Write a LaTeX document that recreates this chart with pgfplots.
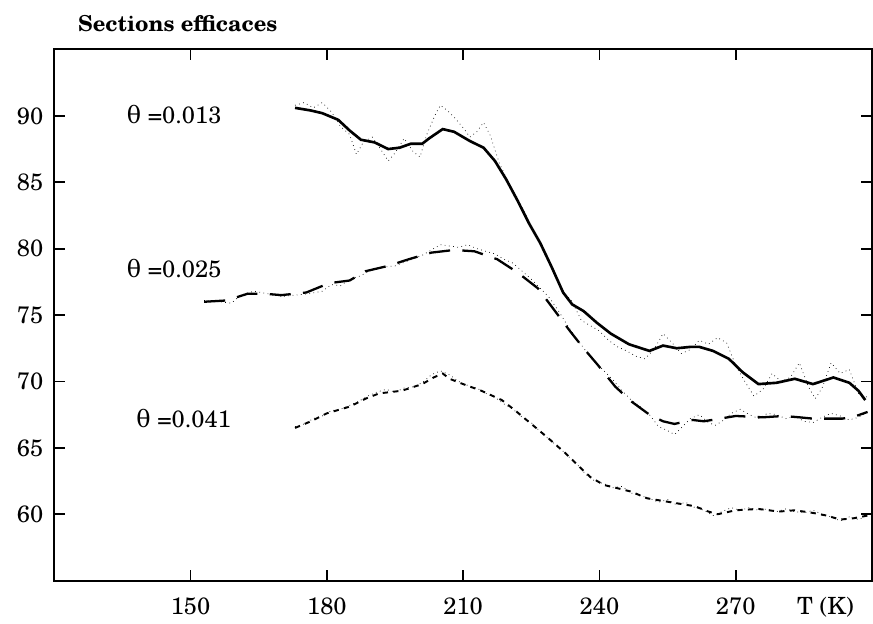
\documentclass[border=0pt]{standalone}
\usepackage{fontspec}
\setmainfont{TeX Gyre Schola}
\newfontfamily\grk{DejaVu Serif}
\usepackage{pgfplots}
\pgfplotsset{compat=1.18}
\usepackage{pgfplotstable}

% theta = 0.013 : smoothed curve and raw points
\pgfplotstableread{
T s
173 90.6
176.5 90.4
179 90.2
182.5 89.7
185 88.9
187.5 88.2
190.5 88.0
193.5 87.5
196 87.6
198.5 87.9
201 87.9
202.5 88.3
205.5 89.0
208 88.8
211.5 88.1
214.5 87.6
217 86.6
219.5 85.2
222 83.6
224.5 81.9
227 80.4
229.5 78.6
232 76.7
234 75.8
236.5 75.3
239.5 74.4
242.5 73.6
246.5 72.8
251 72.3
254 72.7
257 72.5
260 72.6
262 72.6
265 72.3
268.5 71.7
271.5 70.7
275 69.8
279 69.9
283 70.2
287 69.8
291.5 70.3
295 69.9
297 69.3
298.5 68.6
}\curveA
\pgfplotstableread{
T s
173 90.8
175 91.0
177 90.6
179 91.0
181 90.3
183 89.2
185 88.6
186.5 87.1
188 88.0
190 88.4
192 87.4
193.5 86.6
195 87.2
197 88.3
199 87.3
200.5 86.9
202 88.6
204 90.2
205 90.8
206.5 90.4
208 89.9
210 89.1
211.5 88.4
213 88.8
214.5 89.5
216 88.5
218 86.4
220 85.0
222 83.8
224 82.4
226 81.0
228 79.7
230 78.2
232 76.8
234 76.0
236 74.6
238 74.2
240 73.8
242 73.1
244 72.6
246 72.3
248 71.9
250 71.7
252 72.4
254 73.6
256 72.9
258 72.1
260 72.4
262 73.1
264 72.8
266 73.3
268 72.9
270 71.2
272 70.0
274 68.9
276 69.4
278 70.6
280 70.0
282 70.3
284 71.4
286 69.6
287.5 68.7
289 69.5
291 71.4
293 70.6
295 70.9
297 69.1
299 68.8
}\rawA

% theta = 0.025
\pgfplotstableread{
T s
153 76.0
158 76.1
162.5 76.6
166.5 76.6
170 76.5
175.5 76.7
180.5 77.4
185 77.6
188.5 78.3
193.5 78.7
198 79.2
203 79.7
208 79.9
212.5 79.8
217.5 79.2
222 78.2
226.5 77.0
230 75.4
233.5 73.8
236.5 72.5
239.5 71.3
243.5 69.6
247 68.5
251 67.5
254 67.0
256.5 66.8
260.5 67.1
263 67.0
266.5 67.2
270 67.4
276 67.3
280.5 67.4
284 67.3
287 67.2
293.5 67.2
296.5 67.4
299 67.7
}\curveB
\pgfplotstableread{
T s
153 76.1
156 76.0
159 75.9
161 76.5
164 76.8
167 76.6
170 76.4
173 76.5
176 76.6
179 76.8
181 77.3
183 77.2
185 77.7
187 77.9
190 78.4
192 78.6
195 78.7
198 79.1
201 79.5
203 79.9
205 80.3
207 80.2
209 80.1
211 80.3
213 80.0
215 79.8
217 79.6
219 79.2
221 78.9
223 78.3
225 77.7
227 77.0
229 76.3
231 75.3
233 74.2
235 73.2
237 72.3
239 71.5
241 70.8
243 70.1
245 69.3
247 68.6
249 68.1
251 67.5
253 66.6
255 66.3
256.5 66.0
258 66.5
260 67.2
262 67.5
264 66.9
265.5 66.7
267 67.0
269 67.6
271 67.9
273 67.5
275 67.2
277 67.6
279 67.5
281 67.2
283 67.4
285 67.0
287 66.9
289 67.3
291 67.6
293 67.4
295 67.1
297 67.3
299 67.7
}\rawB

% theta = 0.041
\pgfplotstableread{
T s
173 66.5
176.5 67.0
180 67.6
185 68.1
188.5 68.7
191.5 69.1
196.5 69.3
201 69.8
203.5 70.3
205.5 70.6
207 70.2
210 69.8
214 69.3
218.5 68.6
221.5 67.8
225 66.8
228.5 65.8
232.5 64.6
235.5 63.6
238 62.8
241 62.2
243.5 62.0
247 61.7
250.5 61.2
254 61.0
257.5 60.8
261 60.6
264 60.2
266 60.0
270 60.3
275 60.4
279.5 60.2
283 60.3
287 60.1
290 59.9
293 59.6
296 59.7
299 59.9
}\curveC
\pgfplotstableread{
T s
173 66.6
175 66.8
177 67.2
179 67.4
181 67.8
183 67.9
185 68.2
187 68.5
189 68.9
191 69.2
193 69.4
195 69.2
197 69.5
199 69.6
201 69.9
203 70.5
205 70.8
207 70.5
209 70.0
211 69.7
213 69.5
215 69.1
217 68.8
219 68.3
221 67.9
223 67.3
225 66.9
227 66.2
229 65.6
231 65.1
233 64.4
235 63.8
237 63.0
239 62.5
241 62.3
243 62.0
245 62.1
247 61.6
249 61.4
251 61.2
253 60.9
255 61.1
257 60.7
259 60.9
261 60.5
263 60.3
265 59.9
267 60.2
269 60.5
271 60.3
273 60.5
275 60.3
277 60.4
279 60.2
281 60.4
283 60.2
285 60.1
287 60.3
289 60.0
291 59.8
293 59.5
295 59.8
297 59.6
299 59.9
}\rawC

\begin{document}
\begin{tikzpicture}
\begin{axis}[
  font=\fontsize{13.5}{16}\selectfont,
  scale only axis,
  width=16.38cm, height=10.64cm,
  xmin=120, xmax=300,
  ymin=55, ymax=95,
  xtick={150,180,210,240,270},
  ytick={60,65,70,75,80,85,90},
  tick align=inside,
  major tick length=0.22cm,
  every major tick/.append style={black, line width=1pt},
  every axis/.append style={line width=1.1pt},
  /pgf/number format/assume math mode=true,
  xticklabel style={yshift=-0.2cm},
  yticklabel style={inner xsep=0.34cm, xshift=0.14cm},
  xlabel={T (K)},
  xlabel style={at={(rel axis cs:0.943,0)}, anchor=north, yshift=-0.2cm},
  title={Sections efficaces},
  title style={at={(rel axis cs:0.021,1)}, anchor=south west, inner ysep=0.3cm,
    yshift=-0.17cm, font=\fontsize{12.5}{15}\selectfont\bfseries},
]
\addplot[black, line width=0.4pt, dotted] table[x=T, y=s] {\rawA};
\addplot[black, line width=1.5pt] table[x=T, y=s] {\curveA};
\addplot[black, line width=0.4pt, dotted] table[x=T, y=s] {\rawB};
\addplot[black, line width=1.3pt, dash pattern=on 12pt off 7pt] table[x=T, y=s] {\curveB};
\addplot[black, line width=0.4pt, dotted] table[x=T, y=s] {\rawC};
\addplot[black, line width=1.1pt, dash pattern=on 3pt off 3pt] table[x=T, y=s] {\curveC};

\node[anchor=west] at (axis cs:134.5,90.1) {{\grk θ} =0.013};
\node[anchor=west] at (axis cs:134.5,78.5) {{\grk θ} =0.025};
\node[anchor=west] at (axis cs:136.6,67.2) {{\grk θ} =0.041};
\end{axis}
\end{tikzpicture}
\end{document}
